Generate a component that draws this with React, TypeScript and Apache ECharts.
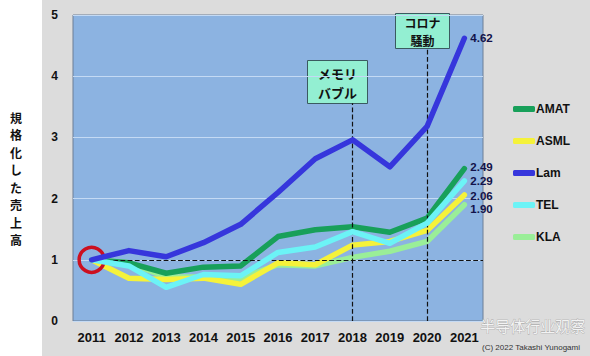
import React, { useEffect, useRef } from "react";
import * as echarts from "echarts";

const years = ["2011", "2012", "2013", "2014", "2015", "2016", "2017", "2018", "2019", "2020", "2021"];
const amat = [1.0, 0.95, 0.78, 0.88, 0.9, 1.38, 1.49, 1.54, 1.45, 1.68, 2.49];
const asml = [1.0, 0.7, 0.68, 0.7, 0.6, 0.95, 0.92, 1.24, 1.3, 1.48, 2.06];
const lam = [1.0, 1.15, 1.05, 1.28, 1.58, 2.1, 2.65, 2.96, 2.52, 3.18, 4.62];
const tel = [1.0, 0.9, 0.55, 0.76, 0.74, 1.12, 1.21, 1.46, 1.27, 1.6, 2.29];
const kla = [1.0, 0.95, 0.72, 0.72, 0.7, 0.92, 0.9, 1.04, 1.14, 1.3, 1.9];
const yTicks = [0, 1, 2, 3, 4, 5];
const titleChars = ["規", "格", "化", "し", "た", "売", "上", "高"];
const events = [
  { year: "2018", top: 3.56, text: "メモリ\nバブル" },
  { year: "2020", top: 4.46, text: "コロナ\n騒動" },
];

export default function App() {
  const ref = useRef<HTMLDivElement>(null);
  useEffect(() => {
    if (!ref.current) return;
    const chart = echarts.init(ref.current, undefined, { renderer: "svg" });
    const labelStyle = (dy: number) => ({
      show: true,
      formatter: (p: any) => Number(p.value).toFixed(2),
      fontFamily: "Liberation Sans",
      fontWeight: "bold",
      fontSize: 11.5,
      color: "#12124a",
      distance: 6,
      offset: [0, dy],
    });
    const mk = (name: string, data: number[], color: string, z: number, dy: number, extra: any = {}) => ({
      name,
      type: "line",
      data,
      symbol: "none",
      z,
      lineStyle: { color, width: 5.5, cap: "round", join: "round" },
      itemStyle: { color },
      endLabel: labelStyle(dy),
      ...extra,
    });
    chart.setOption({
      animation: false,
      backgroundColor: "transparent",
      grid: {
        left: 73,
        right: 107,
        top: 15,
        bottom: 35,
        show: true,
        backgroundColor: "#8cb3e1",
        borderColor: "#6d7f96",
        borderWidth: 1,
        containLabel: false,
        outerBoundsMode: "none",
      },
      xAxis: {
        type: "category",
        data: years,
        boundaryGap: true,
        axisLine: { show: false },
        axisTick: { show: false },
        axisLabel: {
          interval: 0,
          fontFamily: "Liberation Sans",
          fontWeight: "bold",
          fontSize: 13,
          color: "#111",
          margin: 10,
        },
      },
      yAxis: {
        type: "value",
        min: yTicks[0],
        max: yTicks[yTicks.length - 1],
        interval: 1,
        axisLine: { show: false },
        axisTick: { show: false },
        axisLabel: {
          fontFamily: "Liberation Sans",
          fontWeight: "bold",
          fontSize: 12,
          color: "#111",
          margin: 15,
        },
        splitLine: { lineStyle: { color: "#c4daf4", width: 1 } },
      },
      legend: {
        orient: "vertical",
        left: 508,
        top: 98,
        itemGap: 20,
        itemWidth: 22,
        itemHeight: 6,
        icon: "roundRect",
        data: ["AMAT", "ASML", "Lam", "TEL", "KLA"],
        textStyle: { fontFamily: "Liberation Sans", fontWeight: "bold", fontSize: 12, color: "#111", padding: [0, 0, 0, -4] },
      },
      series: [
        mk("KLA", kla, "#9aee98", 2, 4),
        mk("ASML", asml, "#f5f23a", 3, 1),
        mk("AMAT", amat, "#18a05a", 4, -1.5),
        mk("TEL", tel, "#6cf3f6", 5, 0),
        mk("Lam", lam, "#3636dc", 6, 0, {
          markLine: {
            silent: true,
            symbol: "none",
            label: { show: false },
            lineStyle: { color: "#111", type: "dashed", width: 1.2 },
            data: [
              [{ coord: [years[0], 1] }, { coord: [years[years.length - 1], 1], x: 483 }],
              ...events.map((e) => [{ coord: [e.year, 0] }, { coord: [e.year, e.top] }]),
            ],
          },
          markPoint: {
            silent: true,
            symbol: "circle",
            symbolSize: 25,
            label: { show: false },
            itemStyle: { color: "rgba(0,0,0,0)", borderColor: "#cc1020", borderWidth: 3.5 },
            data: [{ coord: [years[0], 1] }],
          },
        }),
      ],
      graphic: [
        ...titleChars.map((c, i) => ({
          type: "text",
          x: 16,
          y: 117 + i * 17.5,
          style: {
            text: c,
            font: "bold 12px 'Noto Sans CJK JP'",
            fill: "#111",
            align: "center",
            verticalAlign: "middle",
          },
        })),
        {
          type: "group",
          left: 307,
          top: 60,
          children: [
            { type: "rect", shape: { x: 0, y: 0, width: 60, height: 43 }, style: { fill: "#93efd2", stroke: "#3a5a60", lineWidth: 1 } },
            {
              type: "text",
              x: 30,
              y: 22,
              style: { text: events[0].text, font: "bold 13px 'Noto Sans CJK JP'", lineHeight: 19, fill: "#111", align: "center", verticalAlign: "middle" },
            },
          ],
        },
        {
          type: "group",
          left: 395,
          top: 13,
          children: [
            { type: "rect", shape: { x: 0, y: 0, width: 54, height: 35 }, style: { fill: "#93efd2", stroke: "#3a5a60", lineWidth: 1 } },
            {
              type: "text",
              x: 27,
              y: 18,
              style: { text: events[1].text, font: "bold 12px 'Noto Sans CJK JP'", lineHeight: 17.5, fill: "#111", align: "center", verticalAlign: "middle" },
            },
          ],
        },
        {
          type: "text",
          left: 480,
          top: 318,
          style: { text: "半导体行业观察", font: "15px 'Noto Sans CJK SC'", fill: "#f3f3f3", stroke: "#9a9a9a", lineWidth: 0.6 },
        },
        {
          type: "text",
          left: 482,
          top: 343,
          style: { text: "(C) 2022 Takashi Yunogami", font: "8px 'Liberation Sans'", fill: "#333" },
        },
      ],
    });
    return () => chart.dispose();
  }, []);
  return (
    <div
      ref={ref}
      style={{
        position: "fixed",
        left: 0,
        top: 0,
        width: 590,
        height: 356,
        background: "linear-gradient(to right, #ffffff 42px, #dcdcdc 42px)",
      }}
    />
  );
}
